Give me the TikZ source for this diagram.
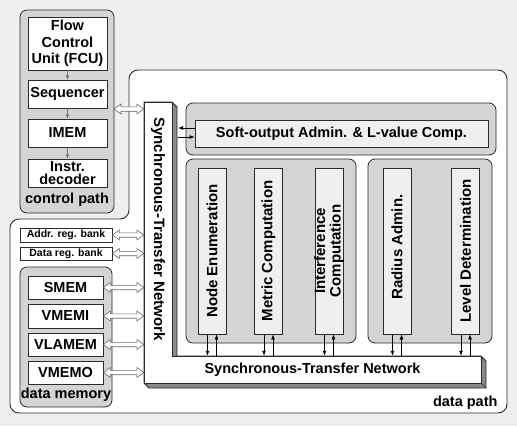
\documentclass[tikz,border=0pt]{standalone}
\usepackage{fontspec}
\setmainfont{Liberation Sans}
\usetikzlibrary{arrows.meta,calc}
\definecolor{bg}{HTML}{EFEFEF}
\definecolor{grp}{HTML}{D4D4D4}
\definecolor{lite}{HTML}{EFEFEF}
\definecolor{edge}{HTML}{2A2A2A}
\definecolor{shade}{HTML}{8A8A8A}
% hollow double-headed arrow between two points (horizontal)
\newcommand\dblconn[2]{%
  \filldraw[dblarr] let \p1=(#1), \p2=(#2) in
    (\x1,\y1) -- (\x1+7pt,\y1+5pt) -- (\x1+7pt,\y1+2.2pt) -- (\x2-7pt,\y1+2.2pt)
    -- (\x2-7pt,\y1+5pt) -- (\x2,\y1) -- (\x2-7pt,\y1-5pt) -- (\x2-7pt,\y1-2.2pt)
    -- (\x1+7pt,\y1-2.2pt) -- (\x1+7pt,\y1-5pt) -- cycle;}
\begin{document}
\begin{tikzpicture}[x=1pt,y=-1pt,
  font=\bfseries\fontsize{14.5}{16}\selectfont,
  wbox/.style={draw=edge, line width=0.8pt, fill=white, inner sep=0pt, align=center},
  lbox/.style={draw=edge, line width=0.8pt, fill=lite, inner sep=0pt, align=center},
  grpbox/.style={draw=edge, line width=0.8pt, fill=grp, rounded corners=7pt, inner sep=0pt},
  colbox/.style={lbox, minimum width=28pt, minimum height=166pt},
  coltext/.style={rotate=90, font=\bfseries\fontsize{15}{15.5}\selectfont, align=center},
  dblarr/.style={fill=white, draw=black!60, line width=0.6pt, line join=miter},
  garr/.style={draw=black!55, line width=1pt, -{Latex[length=4pt,width=4pt]}},
  barr/.style={draw=black, line width=0.8pt, -{Latex[length=5pt,width=4pt]}},
  small/.style={font=\bfseries\fontsize{10.5}{12}\selectfont}
]
\useasboundingbox (0,0) rectangle (517,426);
\fill[bg] (0,0) rectangle (517,426);

% data path region
\draw[edge, line width=0.9pt, fill=white, rounded corners=9pt]
  (129,70) -- (507,70) -- (507,413) -- (10,413) -- (10,219) -- (129,219) -- cycle;
\node[anchor=east] (dplabel) at (501,403) {data path};

% control path
\node[grpbox, minimum width=94pt, minimum height=203pt] (ctrl) at (67,111.5) {};
\node[wbox, minimum width=79pt, minimum height=53pt, font=\bfseries\fontsize{14.5}{16.5}\selectfont] (fcu) at (67.5,43.5) {Flow\\Control\\Unit (FCU)};
\node[wbox, minimum width=79pt, minimum height=28pt] (seq) at (67.5,94) {Sequencer};
\node[wbox, minimum width=79pt, minimum height=28pt] (imem) at (67.5,133) {IMEM};
\node[wbox, minimum width=79pt, minimum height=28pt, font=\bfseries\fontsize{14.5}{13.5}\selectfont] (idec) at (67.5,173) {Instr.\\decoder};
\node (cplabel) at (67,200) {control path};
\draw[garr] (fcu) -- (seq);
\draw[garr] (seq) -- (imem);
\draw[garr] (imem) -- (idec);

% register banks and data memory
\node[wbox, small, minimum width=92pt, minimum height=14pt] (addr) at (66,235) {Addr. reg. bank};
\node[wbox, small, minimum width=92pt, minimum height=13pt] (dreg) at (66,253.5) {Data reg. bank};
\node[grpbox, minimum width=92pt, minimum height=140pt] (dmem) at (66,337) {};
\node[wbox, minimum width=75pt, minimum height=23pt] (smem) at (65.5,287.5) {SMEM};
\node[wbox, minimum width=75pt, minimum height=24pt] (vmemi) at (65.5,316) {VMEMI};
\node[wbox, minimum width=75pt, minimum height=23pt] (vlamem) at (65.5,344.5) {VLAMEM};
\node[wbox, minimum width=75pt, minimum height=23pt] (vmemo) at (65.5,372.5) {VMEMO};
\node (dmlabel) at (66,395) {data memory};

% synchronous-transfer network (L shaped, extruded)
\filldraw[fill=shade, draw=edge, line width=0.8pt]
  (144,102) -- (172,102) -- (177,107) -- (177,356) -- (481,356) -- (486,361)
  -- (486,388) -- (149,388) -- (144,383) -- cycle;
\filldraw[fill=white, draw=edge, line width=0.8pt]
  (144,102) -- (172,102) -- (172,356) -- (481,356) -- (481,383) -- (144,383) -- cycle;
\draw[edge, line width=0.6pt] (172,102) -- (177,107) (481,356) -- (486,361)
  (481,383) -- (486,388) (144,383) -- (149,388);
\node[minimum width=28pt, minimum height=254pt, inner sep=0pt] (stnv) at (158,229) {};
\node[rotate=-90, font=\bfseries\fontsize{15}{16}\selectfont] (stnvtext) at (stnv.center) {Synchronous-Transfer Network};
\node[minimum width=337pt, minimum height=27pt, inner sep=0pt] (stnh) at (312.5,369.5) {Synchronous-Transfer Network};
\coordinate (stnsh) at (178,102);

% connections to the STN
\coordinate (cpo) at (114,109);
\dblconn{cpo}{cpo -| stnv.west}
\dblconn{addr.east}{addr.east -| stnv.west}
\dblconn{dreg.east}{dreg.east -| stnv.west}
\dblconn{smem.east}{smem.east -| stnv.west}
\dblconn{vmemi.east}{vmemi.east -| stnv.west}
\dblconn{vlamem.east}{vlamem.east -| stnv.west}
\dblconn{vmemo.east}{vmemo.east -| stnv.west}

% soft-output
\node[grpbox, minimum width=310pt, minimum height=52pt] (softg) at (341,129) {};
\node[lbox, minimum width=293pt, minimum height=27pt] (soft) at (341.5,133.5) {Soft-output Admin. \& L-value Comp.};
\draw[barr] ([yshift=5.5pt]soft.west) -- ([yshift=5.5pt]soft.west -| stnsh);
\draw[barr] ([yshift=-3.5pt]soft.west -| stnsh) -- ([yshift=-3.5pt]soft.west);

% processing columns
\node[grpbox, minimum width=170pt, minimum height=184pt] (lgrp) at (271,251) {};
\node[grpbox, minimum width=124pt, minimum height=184pt] (rgrp) at (430,251) {};
\node[colbox] (ne) at (212,251) {};
\node[colbox] (mc) at (268.5,251) {};
\node[colbox] (ic) at (329,251) {};
\node[colbox] (ra) at (397,251) {};
\node[colbox] (ld) at (465.5,251) {};
\node[coltext] (netext) at (ne.center) {Node Enumeration};
\node[coltext] (mctext) at (mc.center) {Metric Computation};
\node[coltext] (ictext) at (ic.center) {Interference\\Computation};
\node[coltext] (ratext) at ([yshift=4pt]ra.center) {Radius Admin.};
\node[coltext] (ldtext) at (ld.center) {Level Determination};
\foreach \c in {ne,mc,ic,ra,ld}{
  \draw[barr] ([xshift=-4.5pt]\c.south) -- ([xshift=-4.5pt]\c.south |- stnh.north);
  \draw[barr] ([xshift=4.5pt]\c.south |- stnh.north) -- ([xshift=4.5pt]\c.south);
}
\end{tikzpicture}
\end{document}
